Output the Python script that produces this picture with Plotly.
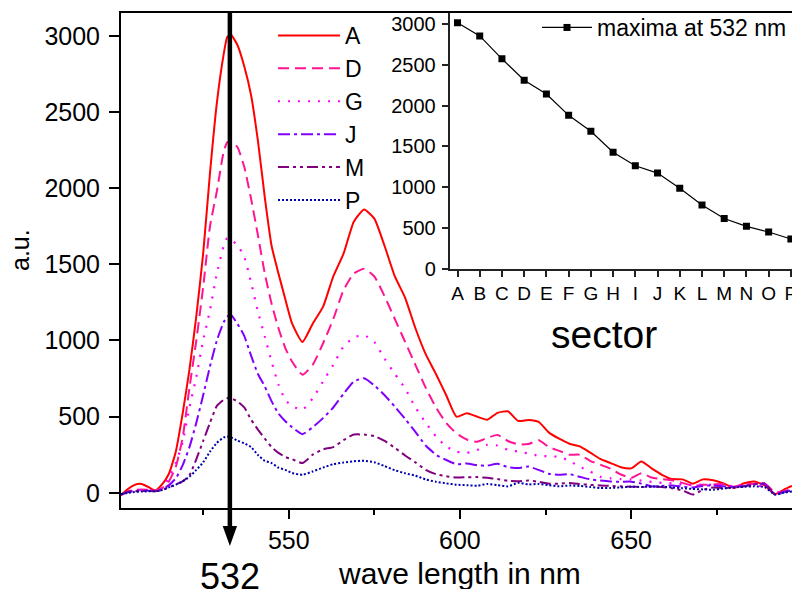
import plotly.graph_objects as go

# ---------------- data ----------------
wavelength = [501, 503, 505, 507, 509, 511, 513, 515, 517, 519, 521, 523, 525, 527, 529,
              531, 532, 533, 535, 537, 539, 541, 543, 545, 547, 549, 551,
              554, 557, 560, 563, 566, 569, 572, 575, 578, 581, 584, 587, 590, 593, 596, 599,
              602, 605, 608, 611, 614, 617, 620, 623, 626, 629, 632, 635, 638, 641, 644, 647,
              650, 653, 656, 659, 662, 665, 668, 671, 674, 677, 680, 683, 686, 689, 692, 695, 697]

A = [-15, 25, 52, 58, 38, 15, 55, 125, 270, 520, 810, 1160, 1570, 2100, 2560,
     2880, 2990, 3010, 2940, 2800, 2610, 2310, 1940, 1620, 1440, 1270, 1110,
     990, 1110, 1220, 1420, 1570, 1780, 1860, 1800, 1620, 1420, 1280, 1080, 910, 780, 640, 500,
     522, 500, 480, 525, 535, 472, 478, 465, 395, 355, 322, 305, 265, 222, 195, 168,
     160, 205, 160, 118, 90, 88, 60, 88, 82, 62, 32, 62, 74, 48, -8, 25, 45]

D = [-15, 10, 18, 22, 18, 15, 30, 75, 170, 360, 690, 1000, 1350, 1750, 1980,
     2240, 2300, 2310, 2270, 2140, 1930, 1690, 1440, 1240, 1080, 950, 860,
     775, 840, 980, 1140, 1330, 1440, 1470, 1420, 1290, 1140, 990, 840, 690, 560, 458, 390,
     350, 335, 360, 380, 340, 318, 320, 345, 300, 275, 250, 250, 210, 185, 158, 120,
     98, 128, 100, 90, 82, 65, 46, 52, 55, 58, 40, 55, 60, 62, 5, 10, 25]

G = [-12, 8, 15, 18, 18, 14, 30, 100, 195, 330, 560, 760, 1000, 1200, 1440,
     1620, 1672, 1665, 1625, 1550, 1380, 1190, 1026, 860, 710, 610, 570,
     545, 620, 730, 840, 960, 1020, 1035, 990, 880, 780, 685, 560, 460, 370, 304, 270,
     262, 280, 315, 310, 283, 270, 258, 243, 240, 235, 210, 170, 140, 105, 95, 90,
     88, 80, 72, 65, 62, 55, 50, 55, 52, 48, 45, 50, 48, 40, 0, 12, 18]

J = [-12, 5, 12, 15, 14, 12, 22, 50, 95, 180, 300, 460, 640, 830, 1000,
     1120, 1155, 1170, 1110, 1030, 900, 780, 698, 600, 520, 470, 430,
     385, 430, 490, 560, 650, 730, 752, 705, 640, 565, 485, 400, 310, 250, 215, 188,
     192, 180, 178, 190, 168, 162, 172, 150, 125, 118, 122, 105, 88, 80, 74, 72,
     73, 60, 42, 45, 48, 40, 35, 45, 48, 42, 38, 45, 55, 58, -8, 8, 15]

M = [-12, 5, 10, 12, 12, 10, 18, 35, 55, 75, 115, 220, 340, 460, 570,
     610, 620, 622, 600, 560, 480, 415, 355, 300, 262, 235, 220,
     195, 250, 285, 300, 345, 382, 382, 372, 340, 295, 245, 200, 150, 122, 108, 100,
     102, 103, 98, 90, 78, 76, 80, 72, 60, 60, 64, 58, 52, 48, 45, 42,
     40, 38, 40, 38, 30, 15, -12, 20, 35, 30, 35, 42, 55, 62, -12, 5, 15]

P = [-10, 0, 5, 8, 10, 10, 18, 35, 53, 75, 105, 150, 200, 270, 328,
     362, 370, 365, 342, 325, 300, 248, 210, 195, 165, 150, 130,
     118, 140, 165, 188, 198, 207, 210, 200, 175, 148, 128, 112, 88, 72, 62, 53,
     50, 46, 58, 50, 42, 65, 55, 58, 50, 42, 48, 45, 38, 31, 32, 35,
     40, 38, 42, 40, 35, 30, 25, 22, 20, 28, 35, 40, 42, 38, -12, 3, 8]

series_names = ["A", "D", "G", "J", "M", "P"]
series_values = [A, D, G, J, M, P]

sectors = ["A", "B", "C", "D", "E", "F", "G", "H", "I", "J", "K", "L", "M", "N", "O", "P"]
maxima_532 = [3010, 2850, 2570, 2310, 2140, 1880, 1685, 1430, 1265, 1175, 990, 785, 620, 525, 455, 370]

x_ticks = [550, 600, 650]
y_ticks = [0, 500, 1000, 1500, 2000, 2500, 3000]

# ---------------- styles ----------------
FONT = "Liberation Sans, Arial, sans-serif"
styles = {
    "A": dict(color="#FF0000", dash="solid", width=2),
    "D": dict(color="#FF1493", dash="11px,6px", width=2),
    "G": dict(color="#FF00FF", dash="2px,8px", width=2.2),
    "J": dict(color="#8000FF", dash="12px,4px,3px,4px", width=2),
    "M": dict(color="#800080", dash="11px,4px,3px,4px,3px,4px", width=2),
    "P": dict(color="#0000B0", dash="2px,2px", width=2),
}

fig = go.Figure()
for name, vals in zip(series_names, series_values):
    fig.add_trace(go.Scatter(
        x=wavelength, y=vals, mode="lines", name=name,
        line=dict(shape="spline", smoothing=0.5, **styles[name]),
        xaxis="x", yaxis="y", legend="legend",
    ))

fig.add_trace(go.Scatter(
    x=sectors, y=maxima_532, mode="lines+markers", name="maxima at 532 nm",
    line=dict(color="black", width=1.2),
    marker=dict(symbol="square", size=7, color="black"),
    xaxis="x2", yaxis="y2", legend="legend2",
))

W, H = 792, 589
L, R, T, B = 121, 0, 13, 81
pw, ph = W - L - R, H - T - B

def px_x(p):
    return (p - L) / pw

def px_y(p):
    return (H - B - p) / ph

fig.update_layout(
    width=W, height=H,
    margin=dict(l=L, r=R, t=T, b=B, autoexpand=False),
    paper_bgcolor="white", plot_bgcolor="white",
    font=dict(family=FONT, color="black"),
    showlegend=True,
    legend=dict(
        x=px_x(273), y=px_y(14), xanchor="left", yanchor="top",
        font=dict(size=23, family=FONT, color="black"),
        itemwidth=62, bgcolor="rgba(0,0,0,0)", tracegroupgap=0,
    ),
    legend2=dict(
        x=px_x(537), y=px_y(6), xanchor="left", yanchor="top",
        font=dict(size=23, family=FONT, color="black"),
        itemwidth=50, bgcolor="rgba(0,0,0,0)",
    ),
    xaxis=dict(
        domain=[0, 1], range=[501, 697], anchor="y", automargin=False,
        tickmode="array", tickvals=x_ticks,
        ticks="outside", ticklen=9, tickwidth=2, tickcolor="black",
        tickfont=dict(size=25, family=FONT, color="black"),
        minor=dict(ticks="outside", ticklen=5, tickwidth=2, tickcolor="black",
                   tickmode="linear", tick0=500, dtick=25),
        showline=True, linewidth=2, linecolor="black", mirror=True,
        showgrid=False, zeroline=False,
    ),
    yaxis=dict(
        domain=[0, 1], range=[-100, 3150], anchor="x", automargin=False,
        tickmode="array", tickvals=y_ticks,
        ticks="outside", ticklen=10, tickwidth=2, tickcolor="black",
        tickfont=dict(size=25, family=FONT, color="black"),
        ticklabelstandoff=4,
        showline=True, linewidth=2, linecolor="black",
        showgrid=False, zeroline=False,
    ),
    xaxis2=dict(
        domain=[px_x(449.5), 1.0], anchor="y2", type="category", automargin=False,
        categoryorder="array", categoryarray=sectors,
        tickmode="array", tickvals=sectors, ticktext=sectors,
        range=[-0.36, 15.05],
        ticks="outside", ticklen=6, tickwidth=1.5, tickcolor="#222",
        tickfont=dict(size=19, family=FONT, color="black"),
        showline=True, linewidth=1.5, linecolor="#222",
        showgrid=False, zeroline=False,
    ),
    yaxis2=dict(
        domain=[px_y(269.3), 1.0], anchor="x2", range=[0, 3130], automargin=False,
        tickmode="array", tickvals=y_ticks,
        ticks="outside", ticklen=6, tickwidth=1.5, tickcolor="#222",
        tickfont=dict(size=20, family=FONT, color="black"),
        ticklabelstandoff=2,
        showline=True, linewidth=1.5, linecolor="#222",
        showgrid=False, zeroline=False,
    ),
)

# 532 nm marker line with arrow head
x532 = 532.8
fig.add_shape(type="line", xref="x", yref="paper", x0=x532, x1=x532,
              y0=1.0, y1=px_y(528), line=dict(color="black", width=4.5), layer="above")
fig.add_shape(type="path", xref="x", yref="paper",
              path=f"M {x532-2.1},{px_y(526)} L {x532+2.1},{px_y(526)} L {x532},{px_y(546)} Z",
              fillcolor="black", line=dict(color="black", width=0), layer="above")

fig.add_annotation(text="532", xref="x", yref="paper", x=x532, y=px_y(554),
                   xanchor="center", yanchor="top", showarrow=False,
                   font=dict(size=36, family=FONT, color="black"))
fig.add_annotation(text="wave length in nm", xref="paper", yref="paper",
                   x=px_x(460), y=px_y(573), xanchor="center", yanchor="middle",
                   showarrow=False, font=dict(size=30, family=FONT, color="black"))
fig.add_annotation(text="a.u.", xref="paper", yref="paper",
                   x=px_x(20), y=px_y(250), xanchor="center", yanchor="middle",
                   textangle=-90, showarrow=False,
                   font=dict(size=25, family=FONT, color="black"))
fig.add_annotation(text="sector", xref="paper", yref="paper",
                   x=px_x(604), y=px_y(334), xanchor="center", yanchor="middle",
                   showarrow=False, font=dict(size=39, family=FONT, color="black"))

fig.write_html(
    "out.html",
    config={"displayModeBar": False},
    post_script="document.body.style.margin='0';document.body.style.padding='0';"
                "document.body.style.overflow='hidden';",
)
